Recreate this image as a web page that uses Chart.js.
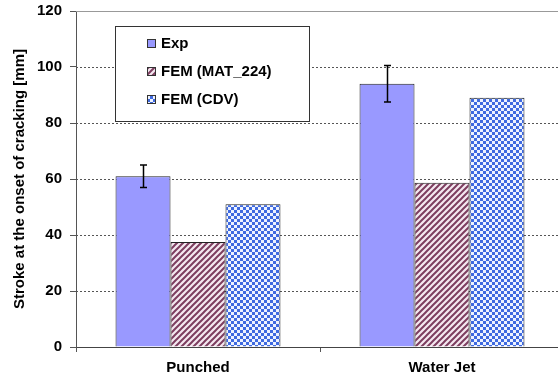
<!DOCTYPE html>
<html>
<head>
<meta charset="utf-8">
<script src="https://cdn.jsdelivr.net/npm/chart.js@4/dist/chart.umd.min.js"></script>
<style>
html, body { margin: 0; padding: 0; overflow: hidden; background: #fff; }
</style>
</head>
<body>
<canvas id="stroke-chart" width="566" height="381"></canvas>
<script>
var categories = ['Punched', 'Water Jet'];
var seriesNames = ['Exp', 'FEM (MAT_224)', 'FEM (CDV)'];
var expValues = [61, 94];
var expErrors = [4, 6.5];
var matValues = [37.5, 58.7];
var cdvValues = [51, 89];
var yTicks = [0, 20, 40, 60, 80, 100, 120];

var FONT = 'bold 15px "Liberation Sans", Arial, sans-serif';
var canvas = document.getElementById('stroke-chart');
var ctx = canvas.getContext('2d');

var makeStripes = function () {
    var c = document.createElement('canvas');
    c.width = 6; c.height = 6;
    var g = c.getContext('2d');
    g.fillStyle = '#f4e8f0';
    g.fillRect(0, 0, 6, 6);
    g.strokeStyle = '#7d3d5f';
    g.lineWidth = 2;
    g.beginPath();
    g.moveTo(0, 6); g.lineTo(6, 0);
    g.moveTo(-3, 3); g.lineTo(3, -3);
    g.moveTo(3, 9); g.lineTo(9, 3);
    g.stroke();
    return ctx.createPattern(c, 'repeat');
};

var makeChecker = function () {
    var c = document.createElement('canvas');
    c.width = 6; c.height = 6;
    var g = c.getContext('2d');
    g.fillStyle = '#eef3ff';
    g.fillRect(0, 0, 6, 6);
    g.fillStyle = '#3f6ae0';
    g.fillRect(0, 0, 3, 3);
    g.fillRect(3, 3, 3, 3);
    return ctx.createPattern(c, 'repeat');
};

var stripes = makeStripes();
var checker = makeChecker();
var fills = ['#9999ff', stripes, checker];

var extrasPlugin = {
    id: 'extras',
    beforeDatasetsDraw: function (chart) {
        var g = chart.ctx, area = chart.chartArea, y = chart.scales.y;
        g.save();
        g.lineWidth = 1;
        g.strokeStyle = '#555';
        g.setLineDash([2, 2]);
        for (var i = 0; i < yTicks.length; ++i) {
            var v = yTicks[i];
            if (v === y.min || v === y.max) continue;
            var py = Math.round(y.getPixelForValue(v)) + 0.5;
            g.beginPath();
            g.moveTo(area.left, py);
            g.lineTo(area.right, py);
            g.stroke();
        }
        g.setLineDash([]);
        g.strokeStyle = '#999';
        var top = Math.round(y.getPixelForValue(y.max)) + 0.5;
        g.beginPath();
        g.moveTo(area.left, top);
        g.lineTo(area.right, top);
        g.stroke();
        g.restore();
    },
    afterDatasetsDraw: function (chart) {
        var g = chart.ctx, y = chart.scales.y;
        var meta = chart.getDatasetMeta(0);
        g.save();
        g.strokeStyle = '#000';
        g.lineWidth = 1.5;
        for (var i = 0; i < expValues.length; ++i) {
            var x = Math.round(meta.data[i].x) + 0.5;
            var t = y.getPixelForValue(expValues[i] + expErrors[i]);
            var b = y.getPixelForValue(expValues[i] - expErrors[i]);
            g.beginPath();
            g.moveTo(x, t); g.lineTo(x, b);
            g.moveTo(x - 3.5, t); g.lineTo(x + 3.5, t);
            g.moveTo(x - 3.5, b); g.lineTo(x + 3.5, b);
            g.stroke();
        }
        g.restore();
    },
    afterDraw: function (chart) {
        var g = chart.ctx;
        g.save();
        g.fillStyle = '#fff';
        g.fillRect(115.5, 26.5, 194, 95);
        g.strokeStyle = '#333';
        g.lineWidth = 1;
        g.strokeRect(115.5, 26.5, 194, 95);
        g.font = FONT;
        g.textBaseline = 'middle';
        for (var i = 0; i < seriesNames.length; ++i) {
            var cy = 43 + i * 28;
            g.fillStyle = fills[i];
            g.fillRect(147, cy - 4, 9, 9);
            g.strokeStyle = '#333';
            g.strokeRect(147.5, cy - 3.5, 8, 8);
            g.fillStyle = '#000';
            g.fillText(seriesNames[i], 161, cy + 1);
        }
        g.restore();
    }
};

var datasets = [expValues, matValues, cdvValues].map(function (vals, i) {
    return {
        label: seriesNames[i],
        data: vals,
        backgroundColor: fills[i],
        borderColor: '#222',
        borderWidth: 1,
        barPercentage: 1,
        categoryPercentage: 0.676
    };
});

new Chart(ctx, {
    type: 'bar',
    data: { labels: categories, datasets: datasets },
    plugins: [extrasPlugin],
    options: {
        responsive: false,
        animation: false,
        layout: { padding: { top: 11, right: 2, left: 0, bottom: 0 } },
        plugins: { legend: { display: false }, tooltip: { enabled: false } },
        scales: {
            x: {
                grid: { drawOnChartArea: false, drawTicks: true, tickLength: 5, tickColor: '#555' },
                border: { display: true, color: '#444', width: 1 },
                ticks: { color: '#000', font: { family: '"Liberation Sans", Arial', size: 15, weight: 'bold' }, padding: 7 },
                afterFit: function (scale) {
                    scale.height = 34;
                    scale.paddingLeft = 0;
                    scale.paddingRight = 0;
                }
            },
            y: {
                min: 0,
                max: 120,
                ticks: { stepSize: 20, color: '#000', font: { family: '"Liberation Sans", Arial', size: 15, weight: 'bold' }, padding: 8 },
                grid: { drawOnChartArea: false, drawTicks: true, tickLength: 6, tickColor: '#555' },
                border: { display: true, color: '#555', width: 1 },
                title: {
                    display: true,
                    text: 'Stroke at the onset of cracking [mm]',
                    color: '#000',
                    font: { family: '"Liberation Sans", Arial', size: 15, weight: 'bold' },
                    padding: { top: 11, bottom: 0 }
                },
                afterFit: function (scale) {
                    scale.width = 76;
                    scale.paddingTop = 0;
                    scale.paddingBottom = 0;
                }
            }
        }
    }
});
</script>
</body>
</html>
